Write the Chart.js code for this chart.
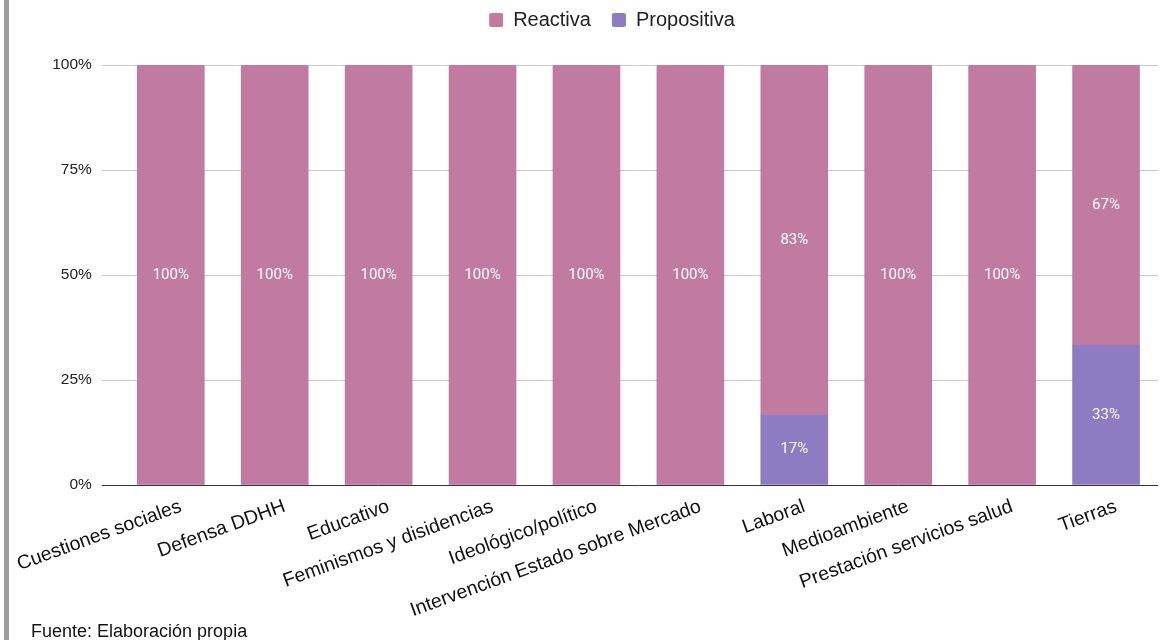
<!DOCTYPE html>
<html>
<head>
<meta charset="utf-8">
<script src="https://cdn.jsdelivr.net/npm/chart.js@4.4.1/dist/chart.umd.min.js"></script>
<style>
  html, body { margin: 0; padding: 0; background: #fff; }
  #wrap { position: relative; width: 1164px; height: 640px; overflow: hidden; }
  #border { position: absolute; left: 4px; top: 0; width: 5px; height: 640px; background: #9e9e9e; z-index: 2; }
  #foot { position: absolute; left: 31px; top: 621px; font-family: "Liberation Sans", Arial, sans-serif; font-size: 18px; color: #111; z-index: 2; }
  canvas { position: absolute; left: 0; top: 0; }
</style>
</head>
<body>
<div id="wrap">
  <div id="border"></div>
  <canvas id="c" width="1164" height="640"></canvas>
  <div id="foot">Fuente: Elaboración propia</div>
</div>
<script>
const categories = ["Cuestiones sociales", "Defensa DDHH", "Educativo", "Feminismos y disidencias", "Ideológico/político", "Intervención Estado sobre Mercado", "Laboral", "Medioambiente", "Prestación servicios salud", "Tierras"];
const reactiva = [100, 100, 100, 100, 100, 100, 83.33, 100, 100, 66.67];
const propositiva = [0, 0, 0, 0, 0, 0, 16.67, 0, 0, 33.33];
const yTicks = [0, 25, 50, 75, 100];

const FONT = "'Liberation Sans', Arial, sans-serif";

const barLabels = {
  id: 'barLabels',
  afterDatasetsDraw(chart) {
    const ctx = chart.ctx;
    ctx.save();
    ctx.font = "15px Roboto, 'Liberation Sans', sans-serif";
    ctx.fillStyle = '#ffffff';
    ctx.textAlign = 'center';
    ctx.textBaseline = 'middle';
    chart.data.datasets.forEach((ds, di) => {
      const meta = chart.getDatasetMeta(di);
      meta.data.forEach((bar, i) => {
        const v = ds.data[i];
        if (!v) return;
        const yMid = (bar.y + bar.base) / 2;
        ctx.fillText(Math.round(v) + '%', bar.x, yMid);
      });
    });
    ctx.restore();
  }
};

const legendPlace = {
  id: 'legendPlace',
  afterInit(chart) {
    const lg = chart.legend;
    if (lg && !lg._patched) {
      const orig = lg.fit;
      lg.fit = function () { orig.call(this); this.height = 65; };
      lg._patched = true;
    }
  },
  afterLayout(chart) {
    const lg = chart.legend;
    if (!lg) return;
    lg.top -= 11; lg.bottom -= 11;
    lg.left += 33; lg.right += 33;
  }
};

new Chart(document.getElementById('c'), {
  type: 'bar',
  data: {
    labels: categories,
    datasets: [
      { label: 'Propositiva', data: propositiva, backgroundColor: '#8e7cc3', borderWidth: 0, barThickness: 67 },
      { label: 'Reactiva', data: reactiva, backgroundColor: '#c27ba0', borderWidth: 0, barThickness: 67, borderRadius: {topLeft: 2, topRight: 2, bottomLeft: 0, bottomRight: 0}, borderSkipped: 'bottom' }
    ]
  },
  options: {
    responsive: false,
    animation: false,
    layout: { padding: { left: 0, right: 6, top: 0, bottom: 0 } },
    plugins: {
      legend: {
        position: 'top',
        reverse: true,
        labels: {
          boxWidth: 14, boxHeight: 14, padding: 21,
          color: '#222',
          font: { family: FONT, size: 20 },
          useBorderRadius: true, borderRadius: 2
        }
      },
      tooltip: { enabled: false }
    },
    scales: {
      x: {
        stacked: true,
        grid: { display: false },
        border: { display: false },
        ticks: {
          color: '#111',
          font: { family: FONT, size: 19.5 },
          minRotation: 20, maxRotation: 20,
          autoSkip: false, padding: 2, labelOffset: 10
        },
        afterFit(scale) { scale.height = 155; }
      },
      y: {
        stacked: true,
        min: 0, max: 100,
        afterBuildTicks(scale) { scale.ticks = yTicks.map(v => ({ value: v })); },
        grid: {
          color: (c) => c.tick && c.tick.value === 0 ? '#333333' : '#cccccc',
          lineWidth: 1,
          tickLength: 17,
          drawTicks: true
        },
        border: { display: false },
        ticks: {
          color: '#222',
          font: { family: FONT, size: 15.5 },
          padding: 10,
          callback: (v) => v + '%'
        },
        afterFit(scale) { scale.width = 117; }
      }
    }
  },
  plugins: [barLabels, legendPlace]
});
</script>
</body>
</html>
